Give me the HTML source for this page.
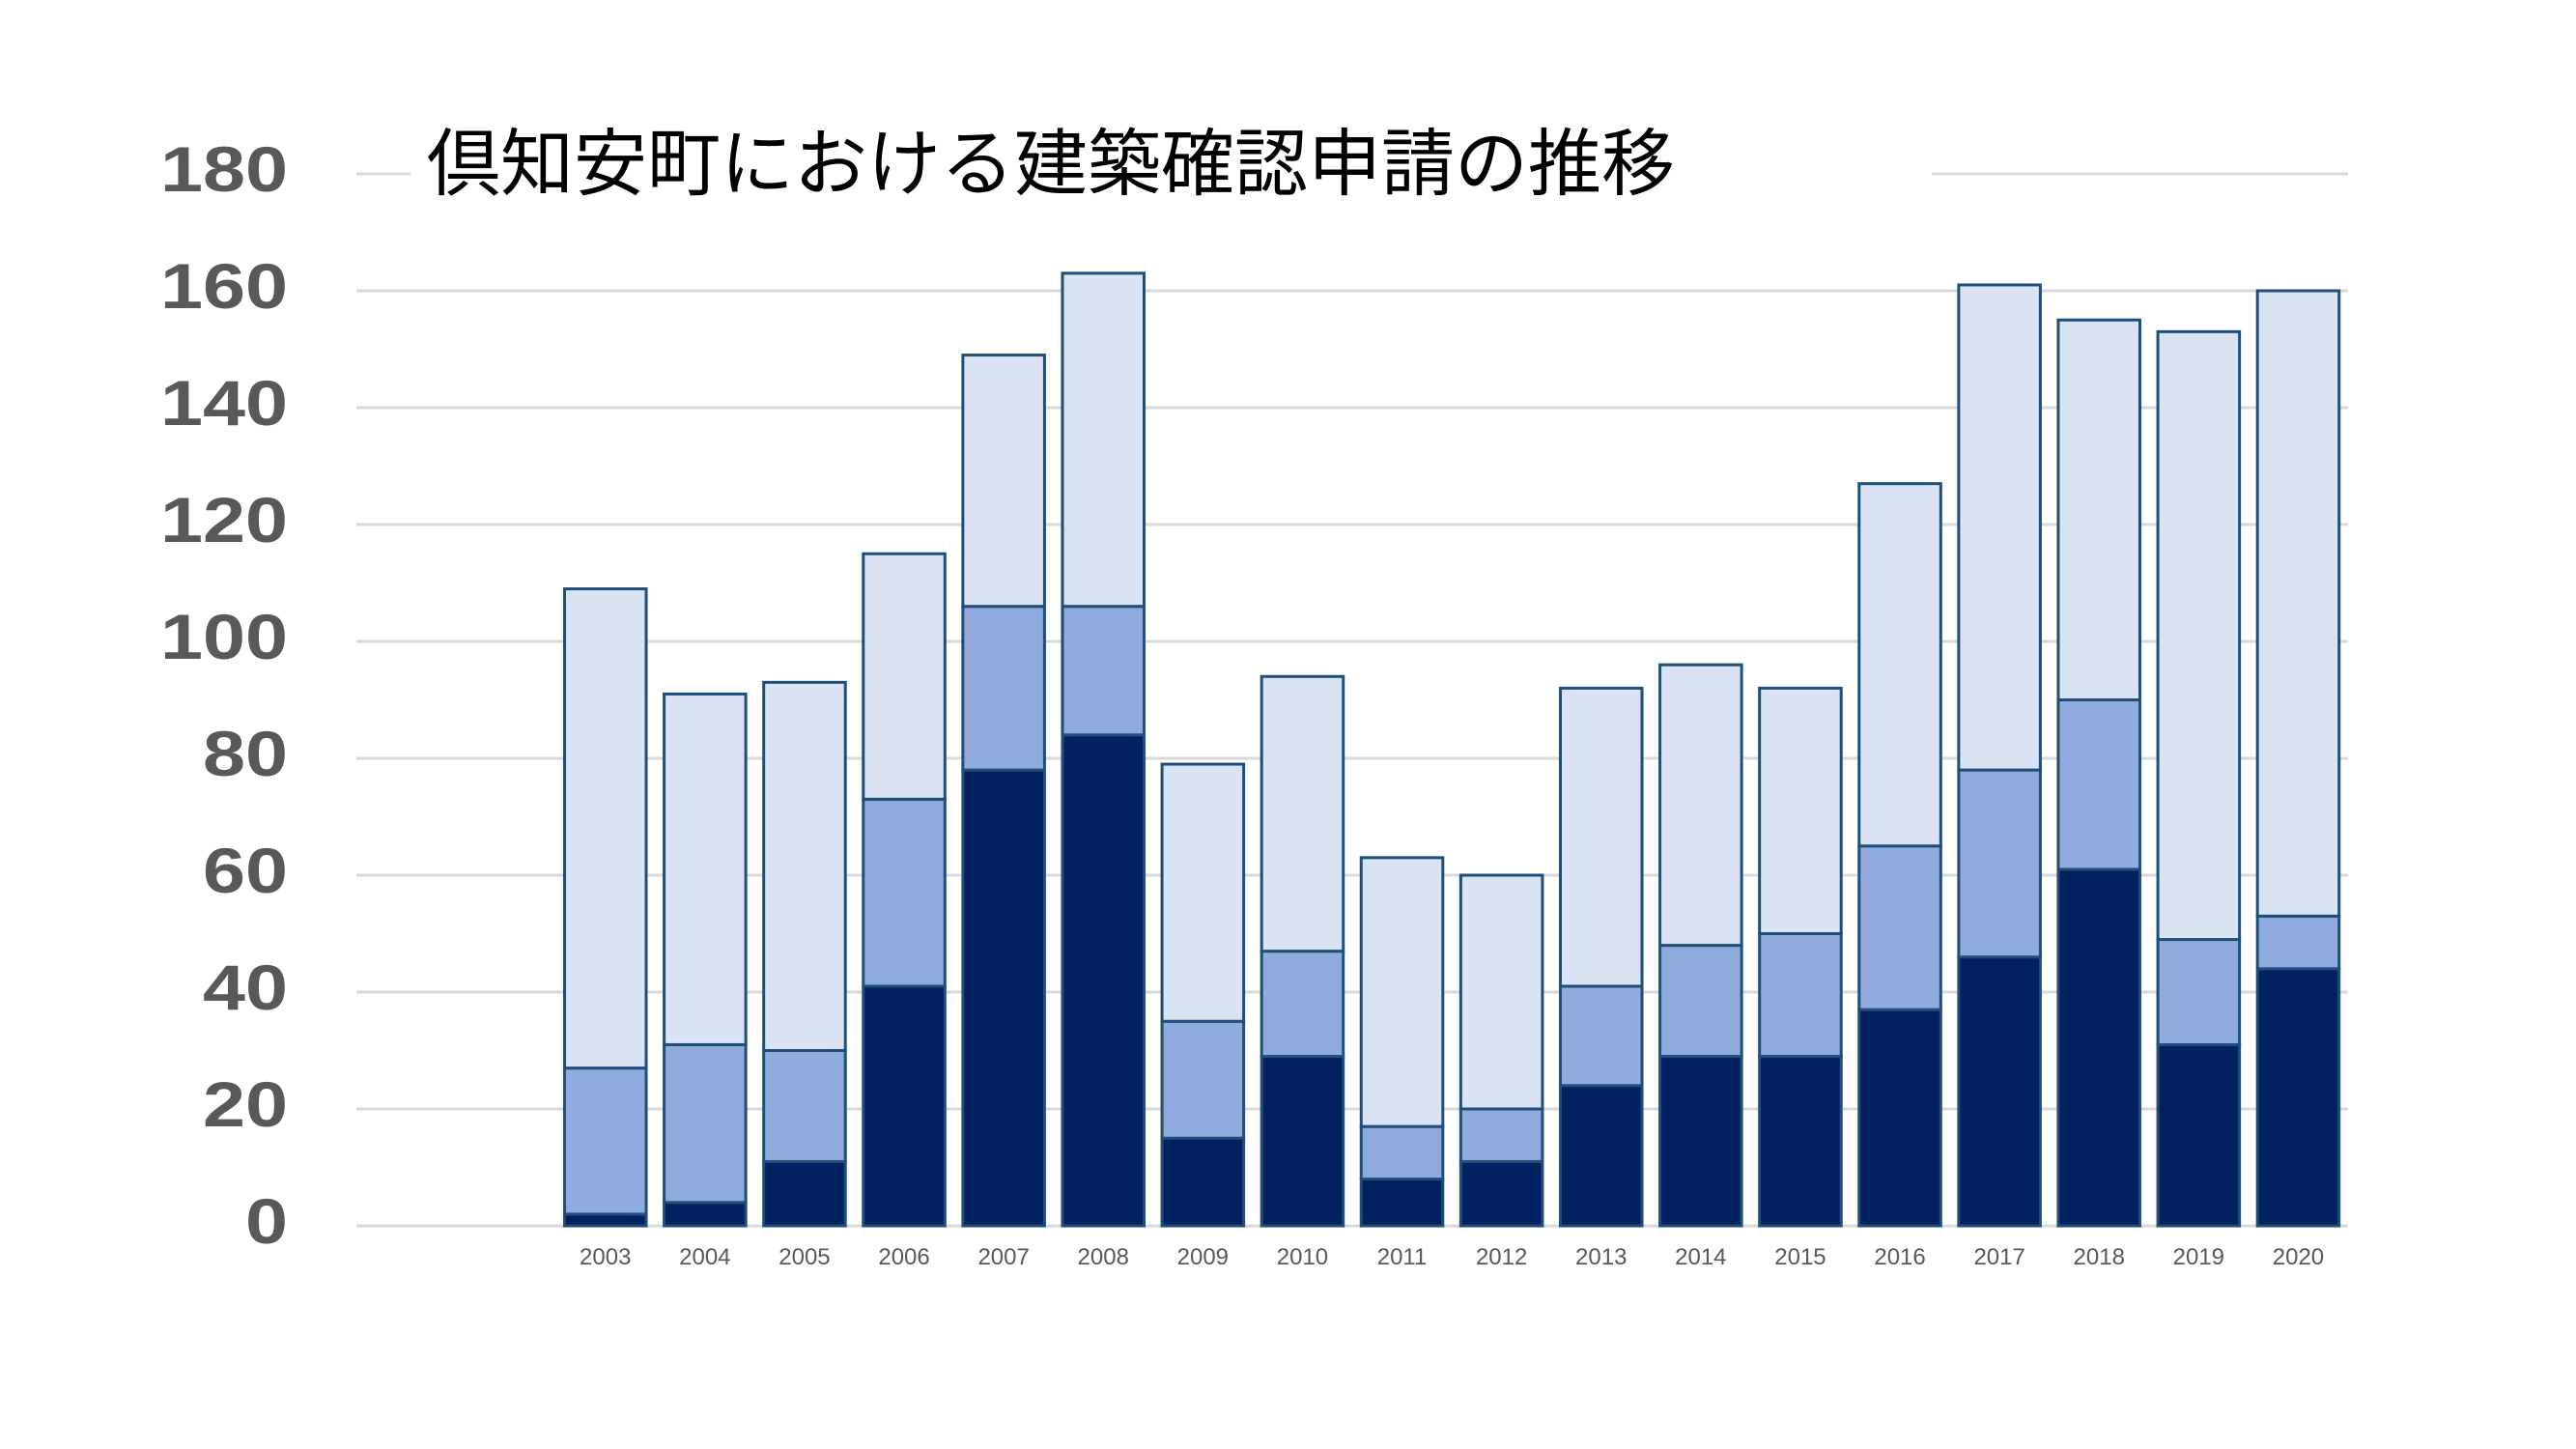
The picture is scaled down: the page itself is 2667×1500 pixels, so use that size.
<!DOCTYPE html>
<html><head><meta charset="utf-8"><style>
html,body{margin:0;padding:0;background:#fff;}
svg{display:block;}
</style></head><body>
<svg id="chart" width="2667" height="1500" viewBox="0 0 2667 1500" xmlns="http://www.w3.org/2000/svg">
<g id="grid"></g>
<g id="yticks"></g>
<rect x="425" y="120" width="1575" height="110" fill="#fff"/>
<text x="442" y="196" font-family="Liberation Sans, Noto Sans CJK JP, sans-serif" font-size="76" fill="#000">倶知安町における建築確認申請の推移</text>
<g id="bars"></g>
<g id="xticks"></g>
</svg>
<script>
const categories = ["", "", "2003","2004","2005","2006","2007","2008","2009","2010","2011","2012","2013","2014","2015","2016","2017","2018","2019","2020"];
const seriesDark = [0,0,2,4,11,41,78,84,15,29,8,11,24,29,29,37,46,61,31,44];
const seriesMid = [0,0,25,27,19,32,28,22,20,18,9,9,17,19,21,28,32,29,18,9];
const seriesLight = [0,0,82,60,63,42,43,57,44,47,46,40,51,48,42,62,83,65,104,107];
const yTicks = [0,20,40,60,80,100,120,140,160,180];

const NS = "http://www.w3.org/2000/svg";
const x0 = 369, x1 = 2431, y0 = 1269, pxPerUnit = 121/20;
const slot = (x1 - x0) / categories.length;
const barW = slot * 0.82;
function yScale(v){ return y0 - v * pxPerUnit; }
function xCenter(i){ return x0 + slot * (i + 0.5); }
function mk(tag, attrs){ const e = document.createElementNS(NS, tag); for (const k in attrs) e.setAttribute(k, attrs[k]); return e; }

const grid = document.getElementById('grid');
const yt = document.getElementById('yticks');
yTicks.forEach(t => {
  const l = mk('line', {x1:x0, x2:x1, y1:yScale(t), y2:yScale(t), stroke:'#d9d9d9', 'stroke-width':3});
  
  
  grid.appendChild(l);
  const s = String(t);
  const tx = mk('text', {x:298, y:yScale(t)+18, 'text-anchor':'end', 'font-family':'Liberation Sans, sans-serif', 'font-size':66, 'font-weight':'bold', fill:'#595959', textLength: s.length*44, lengthAdjust:'spacingAndGlyphs'});
  tx.textContent = s;
  
  
  yt.appendChild(tx);
});

const bars = document.getElementById('bars');
const xt = document.getElementById('xticks');
const colors = ['#002060', '#8faadc', '#dae3f3'];
const series = [seriesDark, seriesMid, seriesLight];
const names = ['dark', 'mid', 'light'];
categories.forEach((c, i) => {
  let base = 0;
  series.forEach((s, si) => {
    const v = s[i];
    if (v > 0) {
      const r = mk('rect', {x: xCenter(i) - barW/2, y: yScale(base + v), width: barW, height: v * pxPerUnit, fill: colors[si], stroke: '#1f4e79', 'stroke-width': 3});
      
      
      bars.appendChild(r);
    }
    base += v;
  });
  if (c) {
    const tx = mk('text', {x: xCenter(i), y: 1309, 'text-anchor':'middle', 'font-family':'Liberation Sans, sans-serif', 'font-size':24, fill:'#595959'});
    tx.textContent = c;
    
    
    xt.appendChild(tx);
  }
});
</script>
</body></html>
